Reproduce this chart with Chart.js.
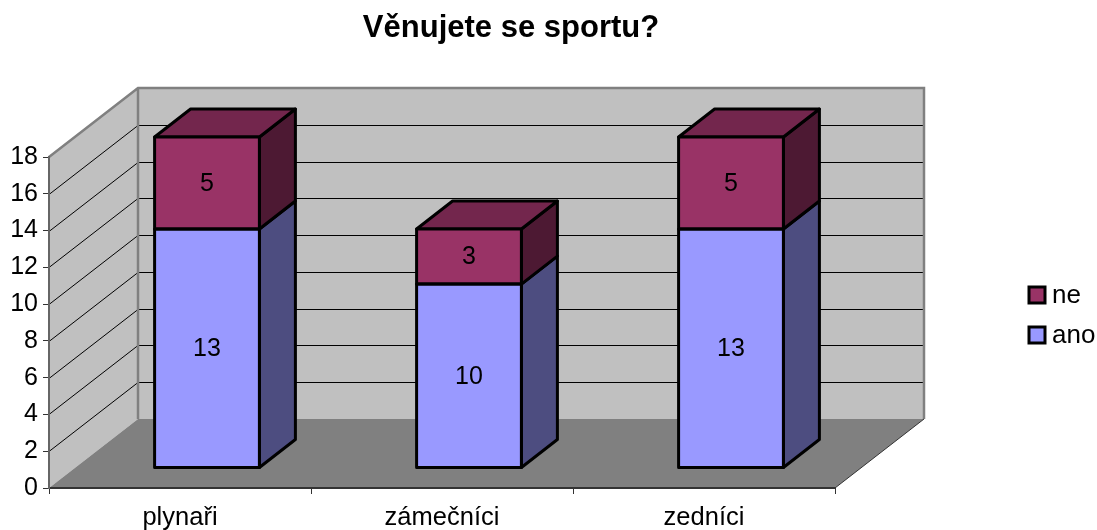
<!DOCTYPE html>
<html>
<head>
    <meta charset="utf-8">
    <title>Věnujete se sportu?</title>
    <script src="https://cdn.jsdelivr.net/npm/chart.js"></script>
    <style>
        html, body { margin: 0; padding: 0; background: white; overflow: hidden; }
        canvas { display: block; }
    </style>
</head>
<body>
    <canvas id="chart" width="1097" height="530"></canvas>
    <script>
        const chartTitle = 'Věnujete se sportu?';
        const categories = ['plynaři', 'zámečníci', 'zedníci'];
        const ano = [13, 10, 13];
        const ne = [5, 3, 5];

        const fontFamily = '"Liberation Sans", Arial, sans-serif';
        const wallDepth = { x: 89, y: -69 };
        const barShift = { x: 27, y: -20 };
        const barDepth = { x: 36, y: -28 };

        function poly(ctx, points, fill, stroke, lineWidth) {
            ctx.beginPath();
            points.forEach((p, i) => i ? ctx.lineTo(p[0], p[1]) : ctx.moveTo(p[0], p[1]));
            ctx.closePath();
            if (fill) { ctx.fillStyle = fill; ctx.fill(); }
            if (stroke) { ctx.strokeStyle = stroke; ctx.lineWidth = lineWidth; ctx.lineJoin = 'round'; ctx.stroke(); }
        }

        const box3d = {
            id: 'box3d',
            // walls, floor and gridlines sit behind the axes
            beforeDraw(chart) {
                const ctx = chart.ctx, a = chart.chartArea, y = chart.scales.y;
                const dx = wallDepth.x, dy = wallDepth.y;
                poly(ctx, [[a.left, a.top], [a.left + dx, a.top + dy], [a.right + dx, a.top + dy],
                    [a.right + dx, a.bottom + dy], [a.left + dx, a.bottom + dy], [a.left, a.bottom]], '#C0C0C0');
                poly(ctx, [[a.left, a.bottom], [a.left + dx, a.bottom + dy], [a.right + dx, a.bottom + dy], [a.right, a.bottom]], '#808080');

                ctx.strokeStyle = '#000000';
                ctx.lineWidth = 1;
                y.ticks.forEach(t => {
                    if (t.value === 0 || t.value === y.max) return;
                    const py = Math.round(y.getPixelForValue(t.value)) + 0.5;
                    ctx.beginPath();
                    ctx.moveTo(a.left, py);
                    ctx.lineTo(a.left + dx, py + dy);
                    ctx.lineTo(a.right + dx, py + dy);
                    ctx.stroke();
                });

                ctx.strokeStyle = '#808080';
                ctx.lineWidth = 2.5;
                ctx.lineJoin = 'miter';
                ctx.beginPath();
                ctx.moveTo(a.left, a.top);
                ctx.lineTo(a.left + dx, a.top + dy);
                ctx.lineTo(a.right + dx, a.top + dy);
                ctx.lineTo(a.right + dx, a.bottom + dy);
                ctx.moveTo(a.left + dx, a.top + dy);
                ctx.lineTo(a.left + dx, a.bottom + dy);
                ctx.stroke();

                ctx.strokeStyle = '#333333';
                ctx.lineWidth = 1;
                ctx.beginPath();
                ctx.moveTo(a.right, a.bottom);
                ctx.lineTo(a.right + dx, a.bottom + dy);
                ctx.stroke();

                ctx.fillStyle = '#000000';
                ctx.font = 'bold 31px ' + fontFamily;
                ctx.textAlign = 'center';
                ctx.textBaseline = 'alphabetic';
                ctx.fillText(chartTitle, 511, 37);
            },
            // side and top faces first, then shift the library's bars onto the front plane
            beforeDatasetsDraw(chart) {
                const ctx = chart.ctx;
                ctx.save();
                ctx.translate(barShift.x, barShift.y);
                chart.data.datasets.forEach((ds, d) => {
                    chart.getDatasetMeta(d).data.forEach(bar => {
                        const r = bar.x + bar.width / 2, l = bar.x - bar.width / 2;
                        poly(ctx, [[r, bar.base], [r + barDepth.x, bar.base + barDepth.y],
                            [r + barDepth.x, bar.y + barDepth.y], [r, bar.y]], ds.sideColor, '#000000', 3);
                        if (d === chart.data.datasets.length - 1) {
                            poly(ctx, [[l, bar.y], [l + barDepth.x, bar.y + barDepth.y],
                                [r + barDepth.x, bar.y + barDepth.y], [r, bar.y]], ds.topColor, '#000000', 3);
                        }
                    });
                });
            },
            afterDatasetsDraw(chart) {
                const ctx = chart.ctx;
                ctx.font = '25px ' + fontFamily;
                ctx.textAlign = 'center';
                ctx.textBaseline = 'middle';
                chart.data.datasets.forEach((ds, d) => {
                    chart.getDatasetMeta(d).data.forEach((bar, i) => {
                        ctx.strokeStyle = '#000000';
                        ctx.lineWidth = 3;
                        ctx.strokeRect(bar.x - bar.width / 2, bar.y, bar.width, bar.base - bar.y);
                        ctx.fillStyle = '#000000';
                        ctx.fillText(ds.data[i], bar.x, (bar.y + bar.base) / 2 + 1);
                    });
                });
                ctx.restore();

                // legend, top series first
                ctx.font = '26px ' + fontFamily;
                ctx.textAlign = 'left';
                ctx.textBaseline = 'middle';
                [...chart.data.datasets].reverse().forEach((ds, i) => {
                    const top = 287 + i * 40;
                    ctx.fillStyle = ds.backgroundColor;
                    ctx.strokeStyle = '#000000';
                    ctx.lineWidth = 3;
                    ctx.fillRect(1029, top, 16, 16);
                    ctx.strokeRect(1029, top, 16, 16);
                    ctx.fillStyle = '#000000';
                    ctx.fillText(ds.label, 1052, top + 9);
                });
            }
        };

        new Chart(document.getElementById('chart'), {
            type: 'bar',
            data: {
                labels: categories,
                datasets: [
                    { label: 'ano', data: ano, backgroundColor: '#9999FF', sideColor: '#4D4D80', topColor: '#7373BF' },
                    { label: 'ne', data: ne, backgroundColor: '#993366', sideColor: '#4D1933', topColor: '#73264D' }
                ]
            },
            options: {
                responsive: false,
                animation: false,
                layout: { padding: { top: 157, right: 262, bottom: 0, left: 0 } },
                datasets: {
                    bar: {
                        barPercentage: 0.4,
                        categoryPercentage: 1,
                        borderWidth: 0,
                        clip: false
                    }
                },
                plugins: { legend: { display: false }, tooltip: { enabled: false } },
                scales: {
                    x: {
                        stacked: true,
                        afterFit(scale) { scale.height = 42; },
                        grid: { drawOnChartArea: false, tickLength: 6, color: '#333333' },
                        border: { color: '#333333', width: 2 },
                        ticks: { color: '#000000', font: { family: fontFamily, size: 25.5 }, padding: 9, maxRotation: 0 }
                    },
                    y: {
                        stacked: true,
                        min: 0,
                        max: 18,
                        afterFit(scale) { scale.width = 49; },
                        grid: { drawOnChartArea: false, tickLength: 6, color: '#333333' },
                        border: { color: '#666666', width: 2 },
                        ticks: { stepSize: 2, color: '#000000', font: { family: fontFamily, size: 25 }, padding: 5 }
                    }
                }
            },
            plugins: [box3d]
        });
    </script>
</body>
</html>
